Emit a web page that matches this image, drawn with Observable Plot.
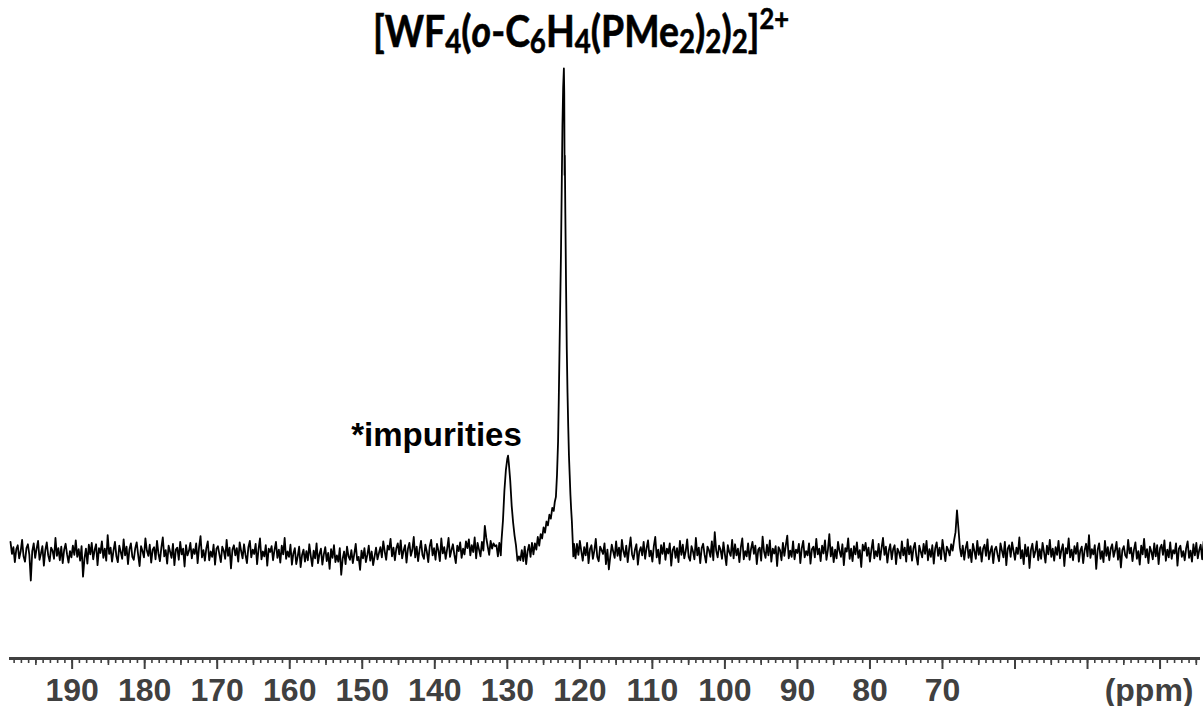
<!DOCTYPE html>
<html>
<head>
<meta charset="utf-8">
<script src="https://cdn.jsdelivr.net/npm/d3@7"></script>
<script src="https://cdn.jsdelivr.net/npm/@observablehq/plot@0.6"></script>
<style>
  html, body { margin: 0; padding: 0; background: #fff; }
  #wrap { position: relative; width: 1203px; height: 706px; }
  #title {
    position: absolute; left: 0; top: 9px; width: 1162px; text-align: center;
    font-family: Lato, "Open Sans", sans-serif; font-weight: 700; font-size: 43px;
    line-height: 43px; color: #000; white-space: nowrap;
    transform: scaleX(0.87); transform-origin: 581px 0;
    -webkit-text-stroke: 0.6px #000;
  }
  #title sub { font-size: 0.74em; vertical-align: -0.19em; line-height: 0; }
  #title sup { font-size: 0.68em; vertical-align: 0.62em; line-height: 0; }
  #title i { font-style: italic; }
</style>
</head>
<body>
<div id="wrap">
  <div id="chart"></div>
  <div id="title">[WF<sub>4</sub>(<i>o</i>-C<sub>6</sub>H<sub>4</sub>(PMe<sub>2</sub>)<sub>2</sub>)<sub>2</sub>]<sup>2+</sup></div>
</div>
<script>
// ---------------- data ----------------
// baseline noise left of the peaks (ppm descending, 0.2 ppm spacing, ending at 131.7 ppm)
const leftEnd = 131.7;
const step = 0.2;
const leftNoise = [
  0.6,-0.9,1.8,0.4,-1.6,2.2,-0.3,1.1,-2.0,0.7,
  1.5,-1.2,0.2,2.6,-0.8,-1.9,0.9,1.7,-0.5,-5.8,
  0.3,1.9,-1.1,0.8,2.4,-1.5,-0.2,1.3,-2.7,0.5,
  2.1,-0.6,-1.8,1.0,0.4,-1.3,3.0,-0.7,0.9,-1.6,
  1.2,-2.2,0.6,1.8,-0.4,-2.1,0.3,-1.0,1.4,-0.5,
  2.5,-0.9,0.7,-1.7,1.3,-5.0,-1.2,0.8,-2.3,1.6,
  -0.4,2.0,-1.4,0.5,1.7,-2.6,0.9,-0.1,2.3,-1.1,
  0.8,-1.7,3.6,-0.3,1.0,-1.9,0.4,2.2,-0.8,-2.0,
  1.4,0.1,-1.3,2.7,-0.6,1.2,-2.4,0.7,1.9,-0.9,
  -1.5,0.9,2.1,-0.5,-2.8,1.3,0.3,-1.0,2.9,0.4,
  -0.7,1.6,-2.1,0.6,1.1,-1.4,2.4,-0.2,-1.8,1.0,
  3.1,-0.8,0.5,-2.3,1.4,0.2,-1.1,1.8,-2.6,0.6,
  1.0,-1.5,2.2,-0.4,0.8,-2.9,1.5,-0.6,0.3,2.0,
  -1.2,0.7,-0.3,1.9,-2.2,1.1,3.4,-1.0,0.5,-1.7,
  0.9,2.3,-1.6,0.2,-0.9,1.6,-2.5,0.8,1.3,-0.4,
  -2.0,1.2,0.4,-1.3,2.6,-0.7,1.0,-3.3,0.6,1.5,
  -0.6,0.9,-1.9,2.1,0.3,-1.2,1.7,-0.5,-2.2,1.1,
  2.4,-1.0,0.6,-0.3,1.8,-2.4,0.7,2.9,-1.4,0.2,
  -0.8,1.5,-2.7,0.8,0.1,1.3,-1.6,0.5,2.2,-1.1,
  0.6,-2.1,1.4,-0.4,3.0,-1.3,0.2,-0.9,1.6,-2.5,
  -0.2,0.9,-2.4,-0.8,1.2,-3.0,-0.5,0.6,-1.9,0.3,
  -1.6,1.7,-0.7,-2.8,0.4,-1.2,1.9,-2.2,-0.3,0.8,
  -2.5,-0.4,1.1,-1.8,-0.1,-3.4,0.7,-1.1,1.5,-2.0,
  -0.6,-1.9,0.9,-4.6,-1.3,0.2,-2.4,1.2,-0.8,-1.5,
  0.5,-2.2,-0.3,1.8,-1.6,-0.9,-3.6,0.4,-1.2,0.9,
  -2.0,-0.5,1.4,-1.7,0.2,-2.6,-0.8,1.0,-1.4,-0.1,
  1.1,-1.0,2.3,0.2,-1.5,1.4,0.6,2.8,-0.8,1.0,
  -1.6,0.9,1.9,-0.4,2.5,-1.2,0.4,1.5,-2.1,0.8,
  2.0,-0.7,0.5,3.2,-1.0,1.2,-1.8,0.6,2.4,-0.5,
  -1.3,1.6,0.2,-2.0,1.3,2.6,-0.6,0.9,-1.5,1.8,
  0.4,-1.8,2.9,-0.2,1.1,-1.3,0.7,3.0,-0.9,0.5,
  1.7,-0.5,-2.2,1.4,0.3,2.1,-1.1,0.8,-0.4,2.3,
  0.9,2.7,-0.6,1.5,0.1,3.1,-1.2,2.0,0.6,-0.8,
  2.2,0.4,5.5,3.0,1.2,-0.5,2.4,0.8,1.9,1.3
];
// impurity peak (~129.9 ppm) and main peak (~122.2 ppm)
const peakPpm = [
  131.5,131.3,131.1,130.9,130.8,130.6,130.4,130.2,130.0,129.9,
  129.8,129.6,129.4,129.2,129.0,128.8,128.6,128.4,128.2,128.0,
  127.8,127.6,127.4,127.2,127.0,126.8,126.6,126.4,126.2,126.0,
  125.8,125.6,125.4,125.2,125.0,124.8,124.6,124.4,124.2,124.0,
  123.8,123.6,123.45,123.3,123.15,123.0,122.9,122.8,122.7,122.6,
  122.5,122.4,122.3,122.2,122.15,122.1,122.07,122.0,121.9,121.8,
  121.7,121.6,121.5,121.4,121.3,121.2,121.1,121.0,120.9,120.8
];
const peakInt = [
  1.5,-0.8,2.0,-0.6,2.5,6.6,12.8,17.0,19.4,20.0,
  18.6,14.9,9.7,6.2,3.5,1.4,-1.7,-0.8,-1.6,0.5,
  -1.8,1.2,-2.4,0.3,1.6,-0.9,2.0,-0.4,1.9,0.6,
  3.2,1.4,3.8,2.9,5.2,4.1,6.4,5.6,7.8,7.0,
  9.2,8.6,10.5,11.5,16,23,32,42,52,62,
  75,88,96,100,95,78,82,70,55,42,
  33,26,20,16,12,9,6.5,3.0,-0.8,1.8
];
// baseline noise right of the main peak (starting at 120.6 ppm, 0.2 ppm spacing)
const rightStart = 120.6;
const rightNoise = [
  -1.2,1.8,-0.5,2.4,0.3,-1.7,1.1,-0.6,2.0,-2.2,
  0.7,1.5,-1.3,0.4,2.8,-0.9,-1.8,1.2,0.5,-0.3,
  1.9,-2.4,0.6,-3.5,-0.8,1.6,0.2,-1.1,2.3,-0.7,
  1.0,-1.6,2.6,0.3,-0.9,1.4,-2.0,0.8,3.1,-0.4,
  -1.4,0.6,1.7,-2.5,0.2,1.1,-0.6,2.2,-1.3,0.9,
  2.5,-0.8,0.4,-1.9,1.3,3.2,-1.0,0.6,-2.3,1.5,
  -0.3,2.0,-1.5,0.8,-0.2,1.9,-2.7,0.5,1.2,-1.1,
  0.9,-2.0,2.4,-0.5,1.6,-1.2,0.3,2.7,-0.9,-1.7,
  1.3,0.2,-1.4,3.0,-0.6,1.0,-2.2,0.9,1.8,-0.5,
  -2.1,1.2,0.5,-0.9,2.3,-1.6,4.2,0.4,-1.0,1.4,
  0.6,-1.3,2.1,-0.4,-2.6,1.5,0.1,-0.7,2.6,-1.2,
  1.7,-0.6,0.8,-2.0,1.1,2.9,-1.4,0.3,-0.8,1.9,
  -1.5,0.7,2.2,-0.3,1.4,-2.4,0.6,1.0,-1.7,3.3,
  0.2,-1.1,1.6,-0.6,2.5,-1.9,0.8,-0.2,1.3,-2.8,
  1.1,0.5,-1.6,2.0,-0.7,1.5,3.5,-1.2,0.4,-0.9,
  2.3,-1.4,0.6,-0.1,1.8,-2.2,0.9,2.4,-1.0,0.3,
  -0.6,1.9,-2.3,0.7,1.2,-1.0,2.8,-0.4,0.8,-1.8,
  1.4,-0.2,2.5,-1.5,0.5,3.8,-0.8,1.1,-2.0,0.6,
  -1.2,2.2,0.3,-0.9,1.7,-2.6,0.9,0.2,2.9,-1.3,
  0.8,-1.8,1.3,-0.4,2.1,-1.1,0.5,-3.0,1.6,0.4,
  2.0,-0.7,1.0,-1.9,0.6,2.6,-1.2,0.3,-0.8,1.8,
  -1.5,0.9,3.0,-0.5,1.2,-2.1,0.4,1.7,-1.4,0.7,
  1.5,-2.4,0.8,0.1,-1.2,2.3,-0.6,1.0,-1.9,2.7,
  -0.4,1.3,-1.7,0.9,2.0,-0.8,-2.5,1.4,0.2,-1.0,
  1.8,-0.3,2.4,-1.6,0.7,-0.9,1.5,-2.3,0.9,2.1,
  -0.7,1.0,-1.4,2.6,0.3,-1.8,1.2,0.5,-0.6,1.7,
  0.4,2.5,4.2,8.7,5.0,1.0,-0.8,1.4,-1.5,0.9,
  2.2,-1.1,0.6,-2.0,1.8,0.3,-1.3,2.4,-0.5,1.1,
  -1.9,0.8,1.6,-0.7,2.7,-1.4,0.2,1.3,-2.2,0.6,
  1.2,-0.5,-1.8,1.9,0.4,-1.0,2.2,-2.6,0.8,1.5,
  -0.9,2.1,0.3,-1.5,1.0,-0.3,3.1,-1.2,0.5,-2.4,
  1.6,-0.8,1.1,-3.2,0.6,1.8,-1.0,0.2,2.3,-1.6,
  0.7,-1.3,2.0,0.1,-2.1,1.4,-0.4,2.6,-0.9,0.8,
  -1.7,1.1,-0.5,2.4,-1.2,0.5,1.7,-2.8,0.9,-0.2,
  2.9,-1.0,0.6,-1.6,1.3,-0.3,2.0,-1.9,0.4,1.2,
  -2.2,0.5,1.8,-0.8,3.6,-1.1,0.7,-0.4,1.5,-3.4,
  0.6,1.9,-1.3,0.3,-2.0,2.4,-0.7,1.1,-1.6,0.8,
  1.7,-0.9,0.4,2.2,-1.5,0.9,-3.1,0.5,1.3,-0.6,
  -1.1,2.6,-0.2,1.0,-1.8,0.6,2.1,-1.3,0.3,-2.5,
  1.4,-0.4,2.8,-1.0,0.7,-2.2,1.2,0.2,-1.4,1.9,
  -0.8,1.5,-2.4,0.9,1.6,-0.5,2.5,-1.7,0.6,-1.0,
  2.1,-1.3,0.5,-0.2,1.9,-2.7,0.8,1.4,-0.9,0.3,
  -1.6,0.9,2.3,-1.1,0.4,-1.9,1.7,-0.6,2.0,-1.2,
  0.5,1.6,-1.4,2.2,-0.7,1.0,-2.1,0.6,1.3,-0.8
];
const tickLabels = [190,180,170,160,150,140,130,120,110,100,90,80,70];
const majorTicks = [190,180,170,160,150,140,130,120,110,100,90,80,70,60,50,40];
const midTicks = [195,185,175,165,155,145,135,125,115,105,95,85,75,65,55,45,35];
const minorTicks = d3.range(198, 34, -1);
const unitLabel = ["(ppm)"];
const annotations = [{label: "*impurities", ppm: 128.0, int: 22.1}];

// ---------------- build spectrum table ----------------
const spectrum = [
  ...leftNoise.map((v, i) => ({ppm: leftEnd + (leftNoise.length - 1 - i) * step, int: v}))
    .filter(d => d.ppm <= 198.6),
  ...peakPpm.map((p, i) => ({ppm: p, int: peakInt[i]})),
  ...rightNoise.map((v, i) => ({ppm: rightStart - i * step, int: v}))
    .filter(d => d.ppm >= 33.8)
];

const axisColor = "#404040";
const font = "'Liberation Sans', Arial, sans-serif";

const chart = Plot.plot({
  width: 1203,
  height: 706,
  marginLeft: 10,
  marginRight: 5,
  marginTop: 0,
  marginBottom: 48,
  style: {fontFamily: font, background: "#fff", overflow: "visible"},
  x: {domain: [198.5, 34.7], axis: null},
  y: {domain: [0, 100], range: [552, 68], axis: null},
  marks: [
    Plot.frame({anchor: "bottom", stroke: axisColor, strokeWidth: 3}),
    Plot.axisX({ticks: minorTicks, tickSize: 5, stroke: axisColor, strokeWidth: 1.6, fill: "none", label: null}),
    Plot.axisX({ticks: midTicks, tickSize: 7, stroke: axisColor, strokeWidth: 1.6, fill: "none", label: null}),
    Plot.axisX({ticks: majorTicks, tickSize: 11, stroke: axisColor, strokeWidth: 2, fill: "none", label: null}),
    Plot.text(tickLabels, {
      x: d => d, text: d => String(d), frameAnchor: "bottom", dy: 42, lineAnchor: "bottom",
      fontSize: 32, fontWeight: "bold", fill: axisColor, fontFamily: font
    }),
    Plot.text(unitLabel, {
      frameAnchor: "bottom-right", textAnchor: "end", dx: -5, dy: 42, lineAnchor: "bottom",
      fontSize: 32, fontWeight: "bold", fill: axisColor, fontFamily: font
    }),
    Plot.line(spectrum, {x: "ppm", y: "int", stroke: "#000", strokeWidth: 1.8, strokeLinejoin: "round"}),
    Plot.text(annotations, {
      x: "ppm", y: "int", text: "label", textAnchor: "end", lineAnchor: "bottom",
      fontSize: 33, fontWeight: "bold", fill: "#000", fontFamily: font
    })
  ]
});
document.getElementById("chart").appendChild(chart);
</script>
</body>
</html>
